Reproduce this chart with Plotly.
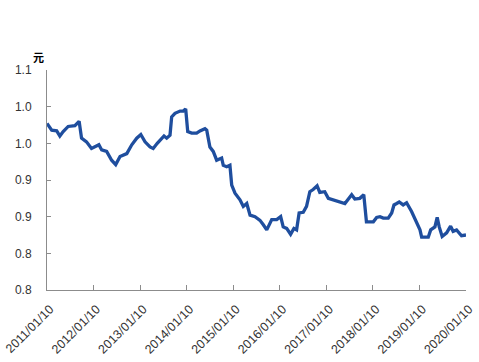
import plotly.graph_objects as go

dates = [
    "2011-01-10", "2011-02-16", "2011-03-27", "2011-04-21", "2011-05-17", "2011-06-25",
    "2011-08-17", "2011-09-19", "2011-10-08", "2011-11-16", "2011-12-25", "2012-01-21",
    "2012-02-21", "2012-03-14", "2012-04-22", "2012-05-31", "2012-07-02", "2012-08-05",
    "2012-08-31", "2012-09-27", "2012-11-05", "2012-12-14", "2013-01-15", "2013-02-17",
    "2013-03-28", "2013-04-22", "2013-05-24", "2013-06-28", "2013-07-16", "2013-08-06",
    "2013-09-01", "2013-09-14", "2013-10-10", "2013-11-19", "2013-12-14", "2014-01-02",
    "2014-01-18", "2014-02-18", "2014-03-29", "2014-04-24", "2014-06-02", "2014-06-16",
    "2014-07-11", "2014-08-06", "2014-09-02", "2014-10-11", "2014-10-24", "2014-11-20",
    "2014-12-15", "2014-12-29", "2015-01-24", "2015-03-04", "2015-03-30", "2015-04-26",
    "2015-05-22", "2015-06-30", "2015-08-08", "2015-09-03", "2015-09-30", "2015-11-08",
    "2015-12-17", "2016-01-17", "2016-02-06", "2016-03-04", "2016-04-04", "2016-04-30",
    "2016-05-21", "2016-06-10", "2016-07-12", "2016-08-07", "2016-09-02", "2016-09-28",
    "2016-10-29", "2016-11-19", "2016-12-28", "2017-01-25", "2017-03-05", "2017-04-26",
    "2017-06-04", "2017-07-27", "2017-08-21", "2017-09-29", "2017-10-30", "2017-11-20",
    "2018-01-13", "2018-02-08", "2018-03-06", "2018-04-01", "2018-05-10", "2018-06-06",
    "2018-06-24", "2018-07-15", "2018-08-04", "2018-09-04", "2018-10-01", "2018-11-09",
    "2018-12-18", "2019-01-14", "2019-01-27", "2019-03-20", "2019-04-08", "2019-05-11",
    "2019-05-29", "2019-06-14", "2019-07-07", "2019-08-11", "2019-09-11", "2019-10-01",
    "2019-10-28", "2019-12-06", "2020-01-10",
]

values = [
    1.027, 1.018, 1.017, 1.010, 1.016, 1.023,
    1.024, 1.030, 1.007, 1.002, 0.993, 0.995,
    0.998, 0.991, 0.989, 0.977, 0.971, 0.982,
    0.984, 0.986, 0.998, 1.007, 1.012, 1.002,
    0.995, 0.993, 1.000, 1.007, 1.010, 1.007,
    1.011, 1.036, 1.041, 1.044, 1.044, 1.047,
    1.016, 1.014, 1.014, 1.017, 1.020, 1.018,
    0.995, 0.989, 0.977, 0.980, 0.970, 0.968,
    0.970, 0.943, 0.932, 0.923, 0.914, 0.918,
    0.902, 0.900, 0.895, 0.889, 0.882, 0.896,
    0.896, 0.900, 0.886, 0.884, 0.876, 0.884,
    0.882, 0.905, 0.906, 0.914, 0.934, 0.937,
    0.942, 0.933, 0.934, 0.925, 0.923, 0.920,
    0.918, 0.930, 0.924, 0.925, 0.930, 0.893,
    0.893, 0.899, 0.900, 0.898, 0.898, 0.905,
    0.916, 0.918, 0.920, 0.916, 0.919, 0.907,
    0.891, 0.882, 0.872, 0.872, 0.882, 0.886,
    0.899, 0.886, 0.873, 0.878, 0.887, 0.880,
    0.882, 0.874, 0.875,
]

x_tick_vals = ["2011-01-10", "2012-01-10", "2013-01-10", "2014-01-10", "2015-01-10",
               "2016-01-10", "2017-01-10", "2018-01-10", "2019-01-10", "2020-01-10"]
x_tick_text = ["2011/01/10", "2012/01/10", "2013/01/10", "2014/01/10", "2015/01/10",
               "2016/01/10", "2017/01/10", "2018/01/10", "2019/01/10", "2020/01/10"]
y_tick_vals = [0.80, 0.85, 0.90, 0.95, 1.00, 1.05, 1.10]
y_tick_text = ["0.8", "0.8", "0.9", "0.9", "1.0", "1.0", "1.1"]
unit_label = "元"

fig = go.Figure()
fig.add_trace(go.Scatter(
    x=dates, y=values, mode="lines",
    line=dict(color="#1f4e9e", width=3.3),
    showlegend=False,
))

font_family = "Liberation Sans, Arial, sans-serif"

fig.update_layout(
    width=479, height=362,
    margin=dict(l=47, r=13, t=70, b=72),
    paper_bgcolor="white", plot_bgcolor="white",
    font=dict(family=font_family, size=12, color="#333333"),
    xaxis=dict(
        range=["2011-01-10", "2020-01-10"],
        tickvals=x_tick_vals, ticktext=x_tick_text,
        tickangle=-45,
        automargin=False,
        ticklabeloverflow="allow",
        showgrid=False, zeroline=False,
        showline=True, linecolor="#8c8c8c", linewidth=1,
        ticks="inside", ticklen=5, tickcolor="#8c8c8c",
        ticklabelstandoff=6,
        ticklabelshift=3,
        tickfont=dict(size=12.5, color="#333333"),
    ),
    yaxis=dict(
        range=[0.8, 1.1],
        tickvals=y_tick_vals, ticktext=y_tick_text,
        automargin=False,
        showgrid=False, zeroline=False,
        showline=True, linecolor="#8c8c8c", linewidth=1,
        ticks="inside", ticklen=4, tickcolor="#8c8c8c",
        ticklabelstandoff=12,
        tickfont=dict(size=12, color="#333333"),
    ),
    annotations=[dict(
        text="<b>" + unit_label + "</b>", xref="paper", yref="paper",
        x=-0.038, y=1.105, showarrow=False,
        font=dict(size=11, color="#000000", family="Noto Sans CJK SC"),
    )],
)

# remove the browser's default 8px page margin so the figure fills the window
fig.write_html(
    "out.html",
    config={"displayModeBar": False, "staticPlot": True},
    post_script="document.body.style.margin='0';document.body.style.overflow='hidden';",
)
